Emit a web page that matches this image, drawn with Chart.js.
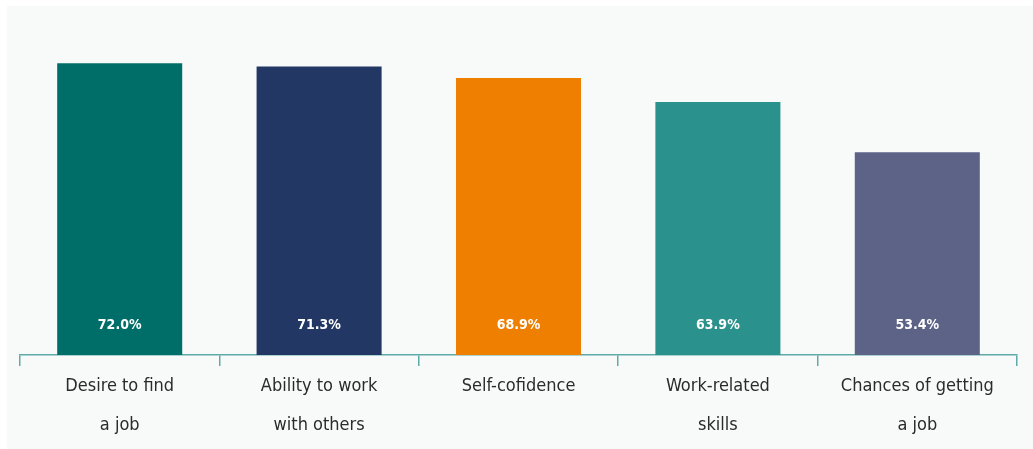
<!DOCTYPE html>
<html>
<head>
<meta charset="utf-8">
<script src="https://cdn.jsdelivr.net/npm/chart.js@4.4.1/dist/chart.umd.min.js"></script>
<style>
  html, body { margin: 0; padding: 0; background: #ffffff; }
  #panel {
    position: absolute; left: 7px; top: 6px;
    width: 1026px; height: 443px;
    background: #f8f9f9;
  }
</style>
</head>
<body>
<div id="panel"><canvas id="chart" width="1026" height="443"></canvas></div>
<script>
// data
const categories = [
  ['Desire to find', 'a job'],
  ['Ability to work', 'with others'],
  ['Self-cofidence'],
  ['Work-related', 'skills'],
  ['Chances of getting', 'a job']
];
const values = [72.0, 71.3, 68.9, 63.9, 53.4];
const barColors = ['#006e68', '#223763', '#ef7f00', '#2b918d', '#5d6387'];

const FONT = '"Liberation Sans Narrow", "DejaVu Sans Condensed", "Arial Narrow", sans-serif';

// value labels sit near the bottom of each bar
const valueLabels = {
  id: 'valueLabels',
  afterDatasetsDraw(chart) {
    const ctx = chart.ctx;
    const meta = chart.getDatasetMeta(0);
    const bottom = chart.scales.y.bottom;
    ctx.save();
    ctx.fillStyle = '#ffffff';
    ctx.font = 'bold 14px ' + FONT;
    ctx.textAlign = 'center';
    ctx.textBaseline = 'middle';
    meta.data.forEach((bar, i) => {
      ctx.fillText(values[i].toFixed(1) + '%', bar.x, bottom - 30);
    });
    ctx.restore();
  }
};

new Chart(document.getElementById('chart').getContext('2d'), {
  type: 'bar',
  data: {
    labels: categories,
    datasets: [{
      data: values,
      backgroundColor: barColors,
      borderWidth: 0,
      categoryPercentage: 1,
      barPercentage: 0.627
    }]
  },
  options: {
    responsive: false,
    animation: false,
    layout: { padding: { top: 19, left: 13, right: 16, bottom: 0 } },
    plugins: {
      legend: { display: false },
      tooltip: { enabled: false }
    },
    scales: {
      x: {
        offset: true,
        afterFit(scale) { scale.height = 94; },
        grid: {
          offset: true,
          drawOnChartArea: false,
          drawTicks: true,
          tickLength: 11,
          color: '#5eaaa8',
          lineWidth: 1.5
        },
        border: { display: true, color: '#5eaaa8', width: 1.5 },
        ticks: {
          color: '#2b2b2b',
          padding: 1,
          maxRotation: 0,
          autoSkip: false,
          font: { family: FONT, size: 18, lineHeight: 2.17 }
        }
      },
      y: {
        display: false,
        min: 11,
        max: 80
      }
    }
  },
  plugins: [valueLabels]
});
</script>
</body>
</html>
